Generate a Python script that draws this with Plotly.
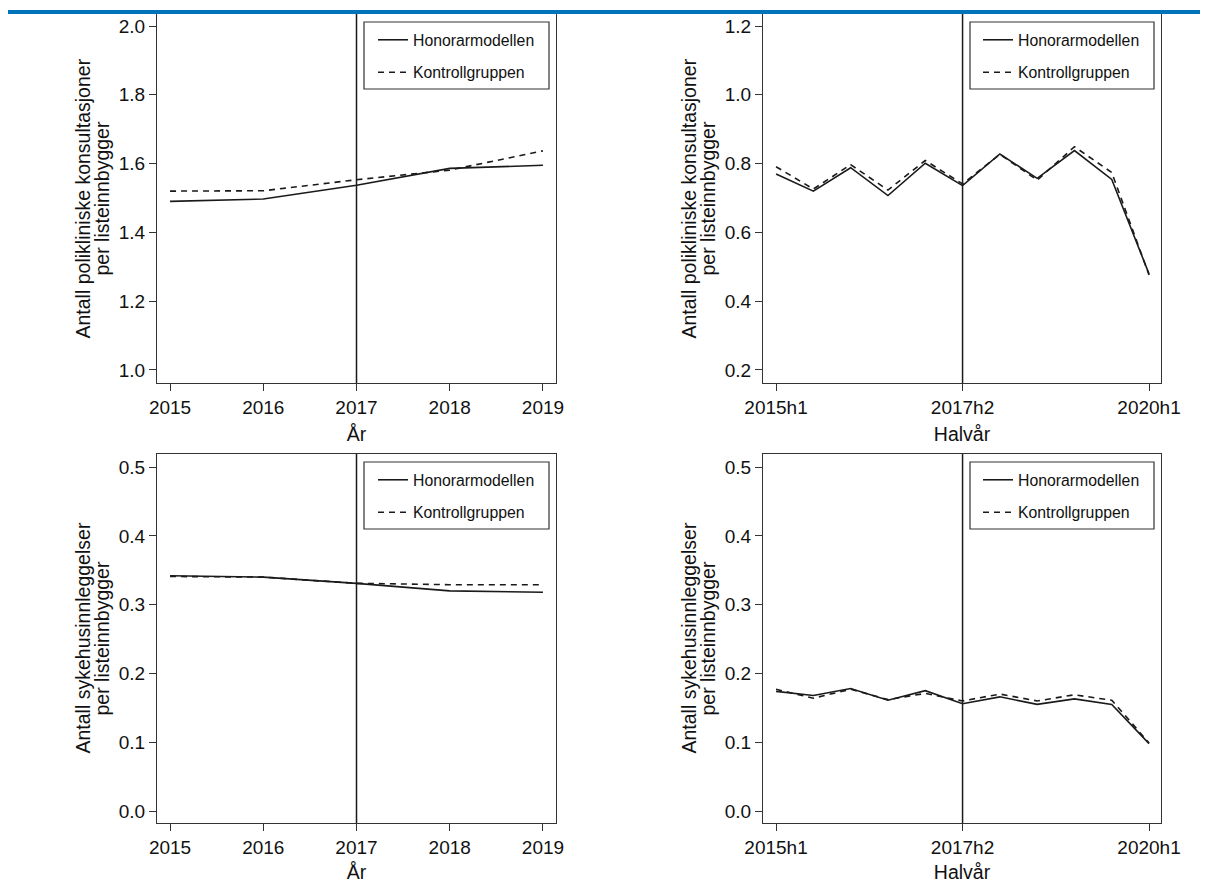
import plotly.graph_objects as go

# ---- data ----
years = [2015, 2016, 2017, 2018, 2019]
halfyears = ["2015h1", "2015h2", "2016h1", "2016h2", "2017h1", "2017h2",
             "2018h1", "2018h2", "2019h1", "2019h2", "2020h1"]
halfyear_ticks = ["2015h1", "2017h2", "2020h1"]

pol_year_hon = [1.490, 1.497, 1.537, 1.586, 1.595]
pol_year_kon = [1.520, 1.521, 1.553, 1.581, 1.637]

pol_half_hon = [0.770, 0.720, 0.788, 0.707, 0.801, 0.736, 0.828, 0.757, 0.838, 0.754, 0.479]
pol_half_kon = [0.791, 0.726, 0.797, 0.723, 0.809, 0.741, 0.827, 0.752, 0.849, 0.774, 0.476]

syk_year_hon = [0.342, 0.340, 0.331, 0.320, 0.318]
syk_year_kon = [0.341, 0.340, 0.331, 0.329, 0.329]

syk_half_hon = [0.174, 0.168, 0.178, 0.161, 0.175, 0.156, 0.166, 0.155, 0.163, 0.155, 0.098]
syk_half_kon = [0.177, 0.164, 0.177, 0.162, 0.171, 0.160, 0.170, 0.160, 0.169, 0.161, 0.099]

name_hon = "Honorarmodellen"
name_kon = "Kontrollgruppen"

ytitle_pol = ["Antall polikliniske konsultasjoner", "per listeinnbygger"]
ytitle_syk = ["Antall sykehusinnleggelser", "per listeinnbygger"]

# page body has an 8px margin; size the figure so that it fits the 1208x891 window
OFF = 8
W, H = 1208 - 2 * OFF, 891 - 2 * OFF
FONT = "Liberation Sans, Arial, sans-serif"
LINE = "#1a1a1a"
FRAME = "#333333"
TXT = "#111111"

def px_x(p):
    return (p - OFF) / W

def px_y(p):
    return 1 - (p - OFF) / H

fig = go.Figure()

panels = [
    ("x", "y", "legend", years, pol_year_hon, pol_year_kon),
    ("x2", "y2", "legend2", halfyears, pol_half_hon, pol_half_kon),
    ("x3", "y3", "legend3", years, syk_year_hon, syk_year_kon),
    ("x4", "y4", "legend4", halfyears, syk_half_hon, syk_half_kon),
]

for xa, ya, lg, xs, hon, kon in panels:
    fig.add_trace(go.Scatter(x=xs, y=hon, mode="lines", name=name_hon,
                             line=dict(color=LINE, width=1.6),
                             xaxis=xa, yaxis=ya, legend=lg, legendgroup="a" + lg))
    fig.add_trace(go.Scatter(x=xs, y=kon, mode="lines", name=name_kon,
                             line=dict(color=LINE, width=1.6, dash="6px,5px"),
                             xaxis=xa, yaxis=ya, legend=lg, legendgroup="b" + lg))

xdom_l = [px_x(157), px_x(556)]
xdom_r = [px_x(763), px_x(1161)]
ydom_t = [px_y(383), px_y(14)]
ydom_b = [px_y(823), px_y(454)]

tickfont = dict(family=FONT, size=19, color=TXT)
titlefont = dict(family=FONT, size=19.5, color=TXT)

common_axis = dict(showline=True, linecolor=FRAME, linewidth=1.2, mirror=True,
                   ticks="outside", ticklen=7, tickwidth=1.2, tickcolor=FRAME,
                   showgrid=False, zeroline=False, tickfont=tickfont, automargin=False)
XSO = 10

fig.update_layout(
    width=W, height=H,
    margin=dict(l=0, r=0, t=0, b=0, autoexpand=False),
    paper_bgcolor="white", plot_bgcolor="white",
    font=dict(family=FONT),
    xaxis=dict(domain=xdom_l, anchor="y", range=[2014.86, 2019.14],
               tickvals=years, title=dict(text="År", font=titlefont, standoff=XSO), **common_axis),
    yaxis=dict(domain=ydom_t, anchor="x", range=[0.962, 2.035],
               tickvals=[1.0, 1.2, 1.4, 1.6, 1.8, 2.0], tickformat=".1f", **common_axis),
    xaxis2=dict(domain=xdom_r, anchor="y2", type="category", range=[-0.35, 10.32],
                tickvals=halfyear_ticks, title=dict(text="Halvår", font=titlefont, standoff=XSO),
                **common_axis),
    yaxis2=dict(domain=ydom_t, anchor="x2", range=[0.162, 1.235],
                tickvals=[0.2, 0.4, 0.6, 0.8, 1.0, 1.2], tickformat=".1f", **common_axis),
    xaxis3=dict(domain=xdom_l, anchor="y3", range=[2014.86, 2019.14],
                tickvals=years, title=dict(text="År", font=titlefont, standoff=XSO), **common_axis),
    yaxis3=dict(domain=ydom_b, anchor="x3", range=[-0.0174, 0.519],
                tickvals=[0.0, 0.1, 0.2, 0.3, 0.4, 0.5], tickformat=".1f", **common_axis),
    xaxis4=dict(domain=xdom_r, anchor="y4", type="category", range=[-0.35, 10.32],
                tickvals=halfyear_ticks, title=dict(text="Halvår", font=titlefont, standoff=XSO),
                **common_axis),
    yaxis4=dict(domain=ydom_b, anchor="x4", range=[-0.0174, 0.519],
                tickvals=[0.0, 0.1, 0.2, 0.3, 0.4, 0.5], tickformat=".1f", **common_axis),
)

# y-axis titles (two tightly spaced lines, rotated)
for xcenters, ydom, lines in [((82, 101), ydom_t, ytitle_pol), ((688, 707), ydom_t, ytitle_pol),
                              ((82, 101), ydom_b, ytitle_syk), ((688, 707), ydom_b, ytitle_syk)]:
    for xc, txt in zip(xcenters, lines):
        fig.add_annotation(text=txt, xref="paper", yref="paper", x=px_x(xc),
                           y=(ydom[0] + ydom[1]) / 2, textangle=-90, showarrow=False,
                           xanchor="center", yanchor="middle", font=titlefont)

legend_common = dict(bgcolor="rgba(0,0,0,0)", borderwidth=0,
                     font=dict(family=FONT, size=15.8, color=TXT),
                     xanchor="left", yanchor="top", traceorder="grouped",
                     tracegroupgap=9, itemwidth=30)
fig.update_layout(
    legend=dict(x=px_x(373), y=px_y(23), **legend_common),
    legend2=dict(x=px_x(978), y=px_y(23), **legend_common),
    legend3=dict(x=px_x(373), y=px_y(463), **legend_common),
    legend4=dict(x=px_x(978), y=px_y(463), **legend_common),
)

# legend frames
for (x0, x1, y0, y1) in [(364, 549, 22, 89), (970, 1154, 22, 89),
                         (364, 549, 462, 529), (970, 1154, 462, 529)]:
    fig.add_shape(type="rect", xref="paper", yref="paper",
                  x0=px_x(x0), x1=px_x(x1), y0=px_y(y1), y1=px_y(y0),
                  line=dict(color=FRAME, width=1.2), fillcolor="white", layer="above")

# vertical reference lines at the intervention point
for xr, yr, xv in [("x", "y", 2017), ("x2", "y2", "2017h2"),
                   ("x3", "y3", 2017), ("x4", "y4", "2017h2")]:
    fig.add_shape(type="line", xref=xr, yref=yr + " domain", x0=xv, x1=xv, y0=0, y1=1,
                  line=dict(color=LINE, width=1.5), layer="above")

# blue header rule at the top of the page
fig.add_shape(type="rect", xref="paper", yref="paper",
              x0=0, x1=1, y0=px_y(14), y1=px_y(10),
              line=dict(width=0), fillcolor="#0073BA")

fig.write_html("out.html")
